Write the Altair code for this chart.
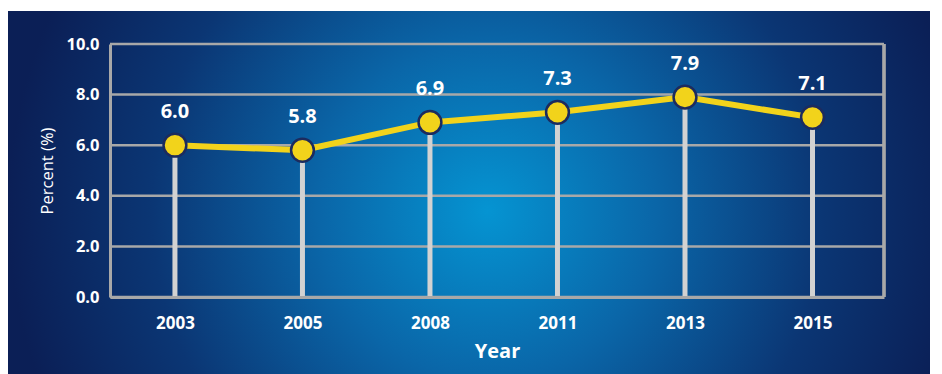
import altair as alt
import pandas as pd

years = ["2003", "2005", "2008", "2011", "2013", "2015"]
values = [6.0, 5.8, 6.9, 7.3, 7.9, 7.1]
labels = ["6.0", "5.8", "6.9", "7.3", "7.9", "7.1"]
y_ticks = [0, 2, 4, 6, 8, 10]

df = pd.DataFrame({"Year": years, "Percent": values, "Label": labels,
                   "Zero": [0] * len(years)})
grid_df = pd.DataFrame({"tick": y_ticks})

FONT = "Open Sans"
GRAY = "#a8a8a8"
W, H = 774, 253
PAD_L, PAD_T = 102, 36
TOTAL_W, TOTAL_H = 922, 366

x_enc = alt.X("Year:N", sort=years,
              scale=alt.Scale(type="point", padding=0.535, align=0.476),
              axis=alt.Axis(title="Year", labelAngle=0, labelFont=FONT, labelFontSize=17,
                            labelFontWeight="bold", labelColor="white", labelPadding=18,
                            ticks=False, domain=True, domainColor=GRAY, domainWidth=3,
                            grid=False, titleFont=FONT, titleFontSize=20, titleFontWeight="bold",
                            titleColor="white", titleY=54, titleBaseline="middle", zindex=1))
y_scale = alt.Scale(domain=[0, 10], nice=False)

gradient = {
    "gradient": "radial",
    "stops": [{"color": "#0594d2", "offset": 0},
              {"color": "#0a66a8", "offset": 0.35},
              {"color": "#0b3674", "offset": 0.7},
              {"color": "#0b1f56", "offset": 1}],
    "x1": 0.52, "y1": 0.52, "r1": 0, "x2": 0.52, "y2": 0.52, "r2": 0.52,
}

base = alt.Chart(df)

bg = base.mark_rect(fill=gradient, clip=False).encode(
    x=alt.value(-PAD_L), x2=alt.value(TOTAL_W - PAD_L),
    y=alt.value(-PAD_T + 3), y2=alt.value(TOTAL_H - PAD_T))

gridlines = alt.Chart(grid_df).mark_rule(color=GRAY, strokeWidth=2.5).encode(
    y=alt.Y("tick:Q", scale=y_scale,
            axis=alt.Axis(title="Percent (%)", values=y_ticks, format=".1f", labelFont=FONT,
                          labelFontSize=16.5, labelFontWeight="bold", labelColor="white",
                          labelPadding=11, ticks=False, domain=True, domainColor=GRAY,
                          domainWidth=3, grid=False, titleFont=FONT, titleFontSize=16.5,
                          titleFontWeight="normal", titleColor="white", titleAngle=-90,
                          titleX=-63, titleY=H / 2, titleAlign="center",
                          titleBaseline="middle", zindex=1)))

right_border = base.mark_rule(color=GRAY, strokeWidth=2.5).encode(
    x=alt.value(W), y=alt.value(0), y2=alt.value(H))

drops = base.mark_rule(color="#d2d2d2", strokeWidth=5).encode(
    x=x_enc, y=alt.Y("Zero:Q"), y2="Percent:Q")

line = base.mark_line(color="#f2d31b", strokeWidth=6).encode(
    x=alt.X("Year:N", sort=years), y=alt.Y("Percent:Q"))

pts = base.mark_point(filled=True, fill="#f2d31b", stroke="#1c2b5e", strokeWidth=2.5,
                      size=520, opacity=1).encode(
    x=alt.X("Year:N", sort=years), y=alt.Y("Percent:Q"))

txt = base.mark_text(font=FONT, fontSize=20, fontWeight="bold", color="white",
                     baseline="middle", dy=-33).encode(
    x=alt.X("Year:N", sort=years), y=alt.Y("Percent:Q"), text="Label:N")

chart = alt.layer(bg, gridlines, right_border, drops, line, pts, txt).properties(
    width=W, height=H,
    autosize=alt.AutoSizeParams(type="none"),
    padding={"left": PAD_L, "top": PAD_T, "right": TOTAL_W - PAD_L - W,
             "bottom": TOTAL_H - PAD_T - H},
    background="#ffffff",
).configure_view(stroke=None)

chart.save("out.html", embed_options={"renderer": "svg", "actions": False})
